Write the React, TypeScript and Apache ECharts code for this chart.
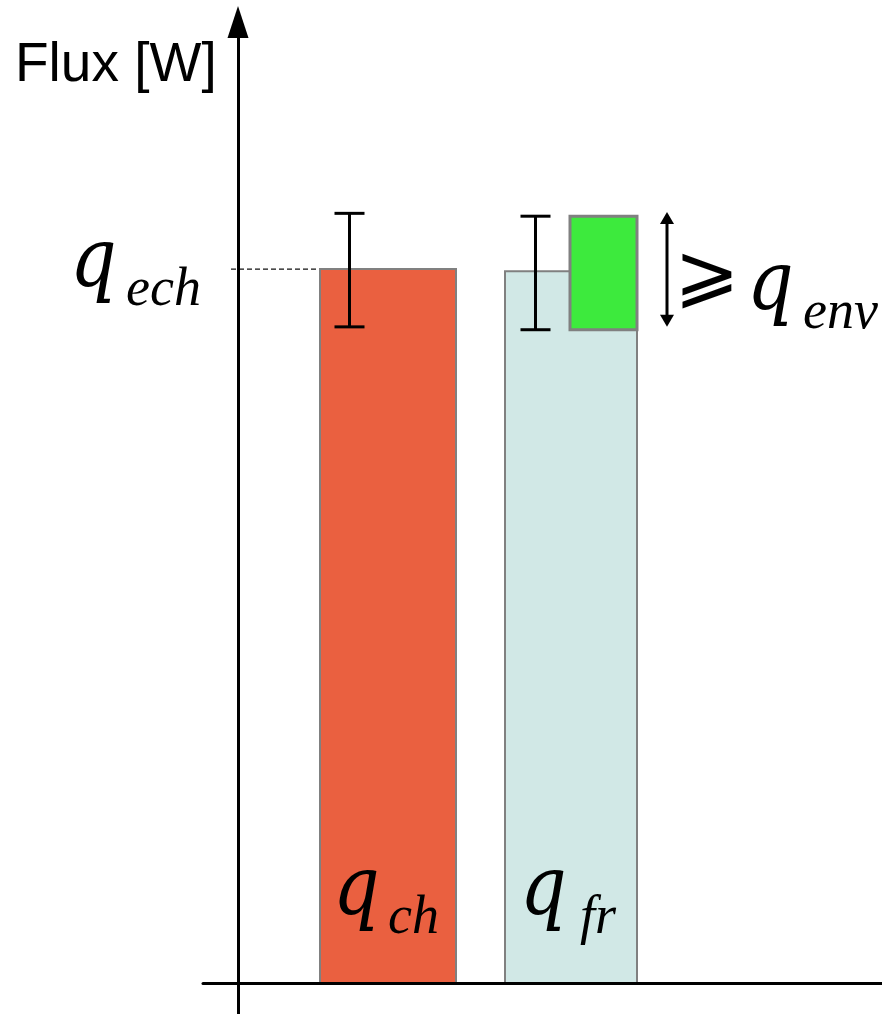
import React, { useEffect, useRef } from "react";
import * as echarts from "echarts";

// Heat flux balance: charged flux vs. flux through the wall (arbitrary units)
const barLabels = ["ch", "fr"];
const barStart = [8.2, 26.7];
const barEnd = [21.8, 39.9];
const barValues = [100, 99.7];
const barColors = ["#EA6040", "#D1E8E6"];

// reference exchange level q_ech and the dashed guide to it
const echValue = 100;
const echGuideX = [-0.7, 8.2];

// uncertainty bars on each flux
const errX = [11.15, 29.75];
const errLow = [91.9, 91.5];
const errHigh = [107.8, 107.4];

// envelope margin block and its span arrow
const envX = [33.2, 39.9];
const envRange = [91.5, 107.4];
const envArrowX = 42.9;
const envArrowRange = [91.9, 108.0];

const X_MIN = -3.5;
const X_MAX = 64.4;
const Y_MIN = -4.34;
const Y_MAX = 134.6;

const serif = "'Liberation Serif', 'Times New Roman', serif";
const qFont = "'DejaVu Serif', serif";

// a large italic q with a subscript, placed on a shared baseline
function mathText(q: string, sub: string, qx: number, base: number, subx: number, qSize = 83, subSize = 54) {
  return [
    {
      type: "text",
      z: 100,
      x: qx,
      y: base - 0.236 * qSize - 0.346 * qSize,
      scaleX: 0.88,
      style: {
        text: q,
        x: 0,
        y: 0,
        font: `italic ${qSize}px ${qFont}`,
        fill: "#000",
        textVerticalAlign: "middle",
      },
    },
    {
      type: "text",
      z: 100,
      style: {
        text: sub,
        x: subx,
        y: base - 0.3375 * subSize,
        font: `italic ${subSize}px ${serif}`,
        fill: "#000",
        textVerticalAlign: "middle",
      },
    },
  ];
}

export default function App() {
  const ref = useRef<HTMLDivElement>(null);

  useEffect(() => {
    if (!ref.current) return;
    const chart = echarts.init(ref.current, null, { renderer: "svg" });

    const barData = barValues.map((v, i) => [barStart[i], barEnd[i], v]);
    const errData = errX.map((x, i) => [x, errLow[i], errHigh[i]]);

    chart.setOption({
      animation: false,
      grid: { left: 203, right: 0, top: 22, bottom: 0 },
      xAxis: {
        type: "value",
        min: X_MIN,
        max: X_MAX,
        z: 10,
        axisLine: { show: true, onZero: true, lineStyle: { color: "#000", width: 3 } },
        axisTick: { show: false },
        axisLabel: { show: false },
        splitLine: { show: false },
      },
      yAxis: {
        type: "value",
        min: Y_MIN,
        max: Y_MAX,
        z: 10,
        axisLine: {
          show: true,
          onZero: true,
          symbol: ["none", "triangle"],
          symbolSize: [21, 32],
          lineStyle: { color: "#000", width: 3 },
        },
        axisTick: { show: false },
        axisLabel: { show: false },
        splitLine: { show: false },
      },
      series: [
        {
          type: "custom",
          name: "flux",
          data: barData,
          encode: { x: [0, 1], y: 2 },
          renderItem: (params: any, api: any) => {
            const p0 = api.coord([api.value(0), api.value(2)]);
            const p1 = api.coord([api.value(1), 0]);
            return {
              type: "rect",
              shape: { x: p0[0], y: p0[1], width: p1[0] - p0[0], height: p1[1] - p0[1] },
              style: { fill: barColors[params.dataIndex], stroke: "#808080", lineWidth: 2 },
            };
          },
          z: 2,
        },
        {
          type: "custom",
          name: "envelope",
          data: [[envX[0], envX[1], envRange[0], envRange[1]]],
          encode: { x: [0, 1], y: [2, 3] },
          renderItem: (_p: any, api: any) => {
            const p0 = api.coord([api.value(0), api.value(3)]);
            const p1 = api.coord([api.value(1), api.value(2)]);
            return {
              type: "rect",
              shape: { x: p0[0], y: p0[1], width: p1[0] - p0[0], height: p1[1] - p0[1] },
              style: { fill: "#3DEA3D", stroke: "#808080", lineWidth: 3 },
            };
          },
          z: 3,
        },
        {
          type: "custom",
          name: "uncertainty",
          data: errData,
          encode: { x: 0, y: [1, 2] },
          renderItem: (_p: any, api: any) => {
            const lo = api.coord([api.value(0), api.value(1)]);
            const hi = api.coord([api.value(0), api.value(2)]);
            const cap = 15;
            const st = { stroke: "#000", lineWidth: 3 };
            return {
              type: "group",
              children: [
                { type: "line", shape: { x1: lo[0], y1: lo[1], x2: hi[0], y2: hi[1] }, style: st },
                { type: "line", shape: { x1: lo[0] - cap, y1: lo[1], x2: lo[0] + cap, y2: lo[1] }, style: st },
                { type: "line", shape: { x1: hi[0] - cap, y1: hi[1], x2: hi[0] + cap, y2: hi[1] }, style: st },
              ],
            };
          },
          z: 4,
        },
        {
          type: "custom",
          name: "span",
          data: [[envArrowX, envArrowRange[0], envArrowRange[1]]],
          encode: { x: 0, y: [1, 2] },
          renderItem: (_p: any, api: any) => {
            const lo = api.coord([api.value(0), api.value(1)]);
            const hi = api.coord([api.value(0), api.value(2)]);
            const hw = 7;
            const hl = 12;
            return {
              type: "group",
              children: [
                {
                  type: "line",
                  shape: { x1: lo[0], y1: lo[1] - hl + 2, x2: hi[0], y2: hi[1] + hl - 2 },
                  style: { stroke: "#000", lineWidth: 3 },
                },
                {
                  type: "polygon",
                  shape: { points: [[hi[0], hi[1]], [hi[0] - hw, hi[1] + hl], [hi[0] + hw, hi[1] + hl]] },
                  style: { fill: "#000" },
                },
                {
                  type: "polygon",
                  shape: { points: [[lo[0], lo[1]], [lo[0] - hw, lo[1] - hl], [lo[0] + hw, lo[1] - hl]] },
                  style: { fill: "#000" },
                },
              ],
            };
          },
          z: 4,
        },
        {
          type: "line",
          name: "q_ech",
          data: [
            [echGuideX[0], echValue],
            [echGuideX[1], echValue],
          ],
          symbol: "none",
          lineStyle: { color: "#111", width: 1.3, type: [5, 3] },
          z: 1,
        },
      ],
      graphic: [
        {
          type: "text",
          z: 100,
          style: {
            text: "Flux [W]",
            x: 15,
            y: 62,
            font: "55px 'Liberation Sans', Arial, sans-serif",
            fill: "#000",
            textVerticalAlign: "middle",
          },
        },
        ...mathText("q", "ech", 70, 305, 126),
        ...mathText("q", "ch", 333, 933, 388),
        ...mathText("q", "fr", 520, 933, 580),
        {
          type: "text",
          z: 100,
          style: {
            text: "⩾",
            x: 707,
            y: 272,
            font: "78px 'DejaVu Sans', sans-serif",
            fill: "#000",
            textAlign: "center",
            textVerticalAlign: "middle",
          },
        },
        ...mathText("q", "env", 747, 328, 803),
      ],
    });

    return () => chart.dispose();
  }, []);

  return (
    <div
      ref={ref}
      style={{ position: "absolute", left: 0, top: 0, width: 882, height: 1014, background: "#fff" }}
    />
  );
}
